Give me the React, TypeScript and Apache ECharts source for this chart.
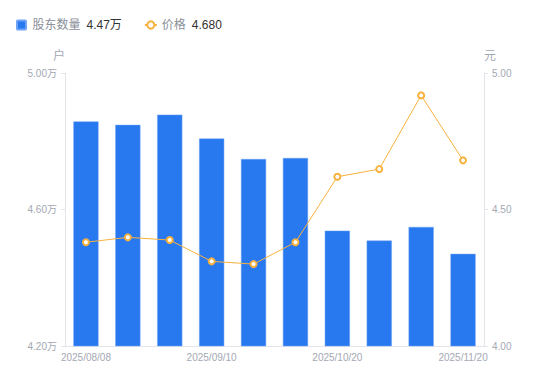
import React, { useEffect, useRef } from "react";
import * as echarts from "echarts";

const categories = [
  "2025/08/08", "2025/08/20", "2025/08/29", "2025/09/10", "2025/09/19",
  "2025/09/30", "2025/10/20", "2025/10/31", "2025/11/10", "2025/11/20",
];
const holders = [4.858, 4.848, 4.878, 4.808, 4.748, 4.751, 4.538, 4.509, 4.549, 4.47];
const prices = [4.38, 4.398, 4.388, 4.31, 4.3, 4.38, 4.62, 4.648, 4.918, 4.68];
const leftTicks = { min: 4.2, max: 5.0, interval: 0.4 };
const rightTicks = { min: 4.0, max: 5.0, interval: 0.5 };
const legendValues: Record<string, string> = { "股东数量": "4.47万", "价格": "4.680" };

export default function App() {
  const ref = useRef<HTMLDivElement>(null);
  useEffect(() => {
    if (!ref.current) return;
    const chart = echarts.init(ref.current, undefined, { renderer: "svg" });
    const font = "'Liberation Sans', Arial, 'Noto Sans CJK SC', sans-serif";
    const gray = "#a3a8b3";
    chart.setOption({
      animation: false,
      textStyle: { fontFamily: font },
      legend: {
        left: 11,
        top: 14,
        itemGap: 22,
        itemWidth: 12,
        itemHeight: 9,
        symbolKeepAspect: true,
        data: [
          { name: "股东数量", icon: "path://M1,0h8a1,1 0 0 1 1,1v8a1,1 0 0 1 -1,1h-8a1,1 0 0 1 -1,-1v-8a1,1 0 0 1 1,-1z" },
          { name: "价格" },
        ],
        formatter: (name: string) => `{n|${name}}{v|${legendValues[name]}}`,
        textStyle: {
          rich: {
            n: { color: "#8a8f99", fontSize: 12, fontFamily: font },
            v: { color: "#333333", fontSize: 12, fontFamily: font, padding: [0, 0, 0, 6] },
          },
        },
      },
      grid: { left: 65, right: 66, top: 73, bottom: 35, containLabel: false },
      xAxis: {
        type: "category",
        data: categories,
        axisLine: { lineStyle: { color: "#e3e5ea" } },
        axisTick: { show: false },
        axisLabel: { color: gray, fontSize: 10, interval: 2, margin: 6, fontFamily: font },
      },
      yAxis: [
        {
          type: "value",
          name: "户",
          nameGap: 11,
          nameTextStyle: { color: gray, fontSize: 12, align: "right", padding: [0, 0, 0, 0] },
          min: leftTicks.min,
          max: leftTicks.max,
          interval: leftTicks.interval,
          axisLine: { show: true, lineStyle: { color: "#e3e5ea" } },
          axisTick: { show: true, length: 4, lineStyle: { color: "#e3e5ea" } },
          splitLine: { show: false },
          axisLabel: {
            color: gray,
            fontSize: 10,
            margin: 8,
            fontFamily: font,
            formatter: (v: number) => v.toFixed(2) + "万",
          },
        },
        {
          type: "value",
          name: "元",
          nameGap: 11,
          nameTextStyle: { color: gray, fontSize: 12, align: "left" },
          min: rightTicks.min,
          max: rightTicks.max,
          interval: rightTicks.interval,
          axisLine: { show: true, lineStyle: { color: "#e3e5ea" } },
          axisTick: { show: true, length: 4, lineStyle: { color: "#e3e5ea" } },
          splitLine: { show: false },
          axisLabel: {
            color: gray,
            fontSize: 10,
            margin: 8,
            fontFamily: font,
            formatter: (v: number) => v.toFixed(2),
          },
        },
      ],
      series: [
        {
          name: "股东数量",
          type: "bar",
          data: holders,
          barWidth: "60%",
          itemStyle: { color: "#2878f0", borderColor: "#6ea3f5", borderWidth: 0.5 },
        },
        {
          name: "价格",
          type: "line",
          yAxisIndex: 1,
          data: prices,
          symbol: "emptyCircle",
          symbolSize: 6,
          lineStyle: { color: "#f9b13d", width: 1 },
          itemStyle: { color: "#f9b13d", borderColor: "#f9a825", borderWidth: 2 },
        },
      ],
    });
    return () => chart.dispose();
  }, []);
  return (
    <div
      ref={ref}
      style={{ position: "absolute", left: 0, top: 0, width: 550, height: 381 }}
    />
  );
}
